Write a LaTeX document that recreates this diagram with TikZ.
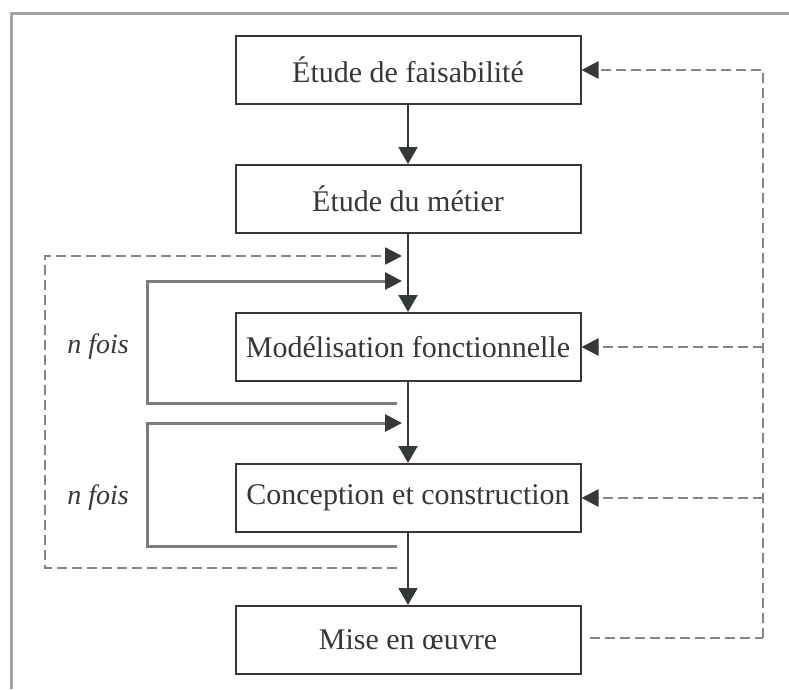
\documentclass[tikz,border=0pt]{standalone}
\usepackage{fontspec}
\setmainfont{Liberation Serif}
\usetikzlibrary{arrows.meta}
\definecolor{inkgray}{HTML}{353838}
\definecolor{loopgray}{HTML}{7C7C7C}
\definecolor{dashgray}{HTML}{858585}
\definecolor{framegray}{HTML}{A3A3A3}

\begin{document}
\begin{tikzpicture}[
  x=1pt,y=-1pt,
  phase/.style={draw=inkgray,line width=2pt,minimum width=345pt,minimum height=68pt,inner sep=0pt,text=inkgray,font=\fontsize{30}{36}\selectfont},
  flow/.style={-{Triangle[length=17pt,width=19pt]},line width=2pt,inkgray},
  cycle/.style={line width=3pt,loopgray,-{Triangle[length=17pt,width=17pt,color=inkgray]}},
  back/.style={line width=2.5pt,dashgray,dash pattern=on 10pt off 5pt},
  backarrow/.style={back,-{Triangle[length=17pt,width=17pt,color=inkgray]}},
  tag/.style={text=inkgray,font=\itshape\fontsize{28}{34}\selectfont}
]
  \useasboundingbox (0,0) rectangle (789,689);
  % frame
  \draw[framegray,line width=3pt] (11,689) -- (11,13) -- (789,13);

  \node[phase] (faisab) at (408,70) {Étude de faisabilité};
  \node[phase] (metier) at (408,199) {Étude du métier};
  \node[phase] (modele) at (408,347) {Modélisation fonctionnelle};
  \node[phase] (concep) at (408,498) {Conception et construction};
  \node[phase] (miseoe) at (408,640) {Mise en œuvre};

  \draw[flow] (faisab) -- (metier);
  \draw[flow] (metier) -- (modele);
  \draw[flow] (modele) -- (concep);
  \draw[flow] (concep) -- (miseoe);

  % n fois
  \foreach \top/\bot/\mid/\nm in {281/403/347/mod, 423/546/498/con}{
    \coordinate (\nm in) at (402,\top);
    \coordinate (\nm out) at (397,\bot);
    \coordinate (\nm corner) at (147,\top);
    \draw[cycle] (\nm out) -| (\nm corner) -- (\nm in);
    \node[tag] (\nm tag) at (98,\mid) {n fois};
  }

  % retour global
  \coordinate (lstart) at (397,568);
  \coordinate (lcorner) at (45,568);
  \coordinate (lend) at (402,256);
  \draw[backarrow] (lstart) -- (lcorner) |- (lend);

  \coordinate (rstart) at (590,638);
  \coordinate (rcorner) at (763,638);
  \draw[back] (rstart) -- (rcorner);
  \draw[backarrow] (rcorner) |- (faisab.east);
  \draw[backarrow] (rcorner |- modele.east) -- (modele.east);
  \draw[backarrow] (rcorner |- concep.east) -- (concep.east);
\end{tikzpicture}
\end{document}
